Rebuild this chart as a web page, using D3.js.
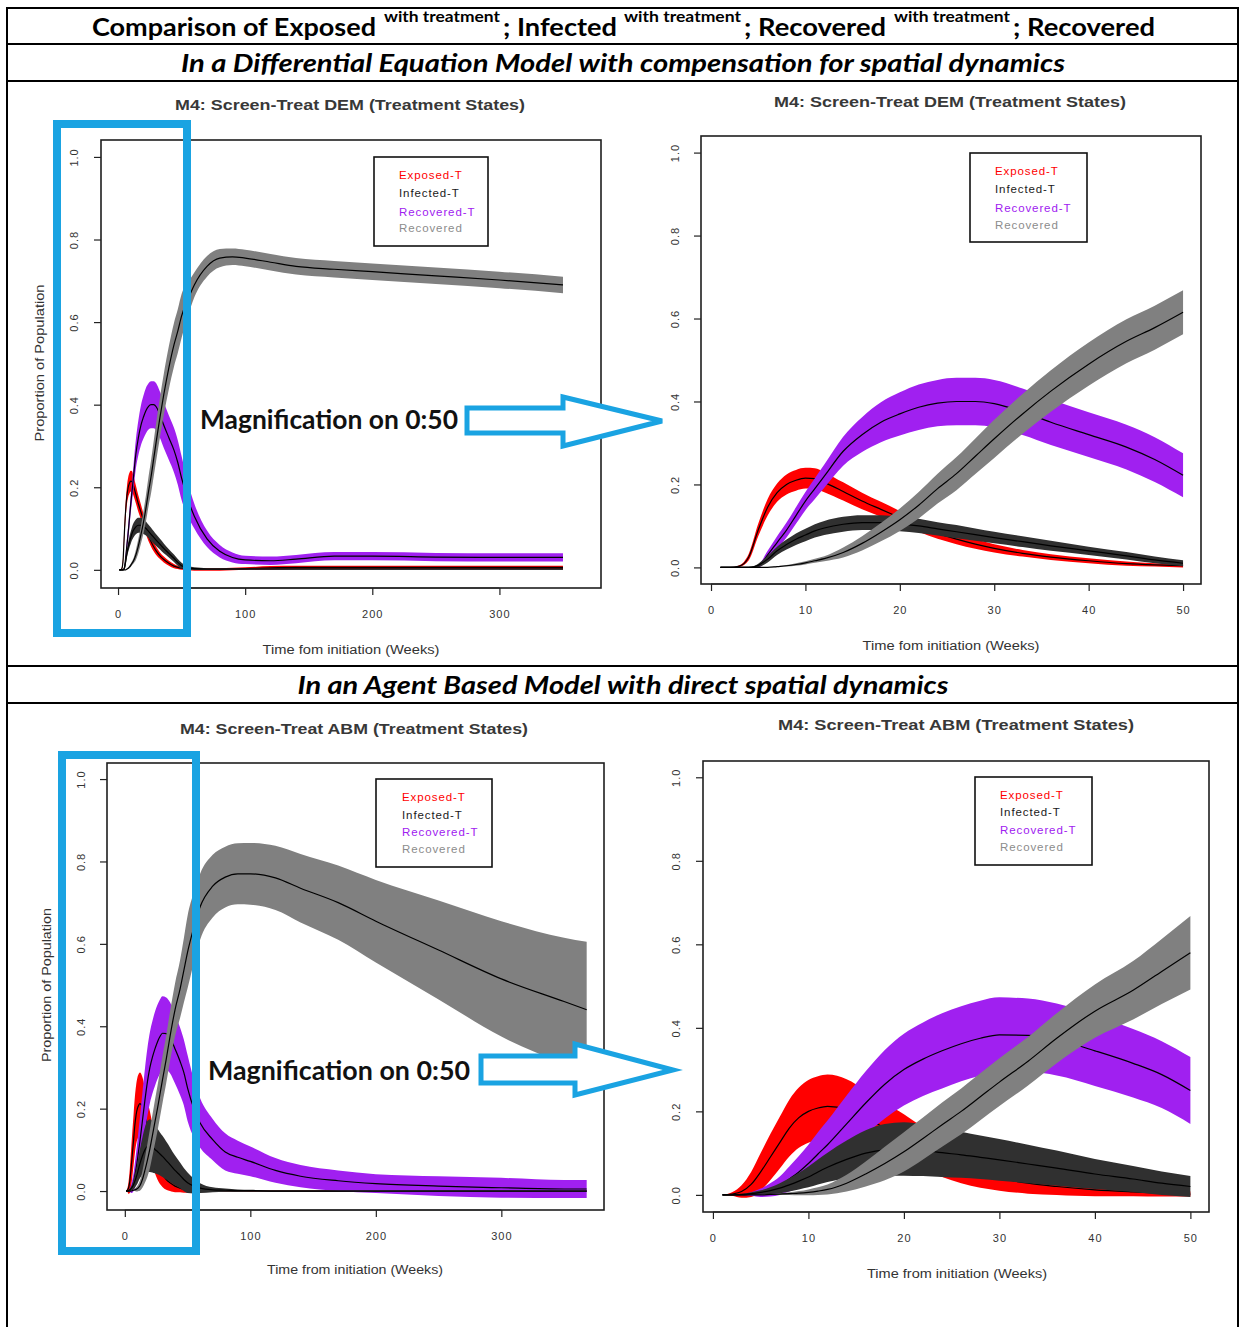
<!DOCTYPE html>
<html><head><meta charset="utf-8">
<script src="https://cdn.jsdelivr.net/npm/d3@7"></script>
<style>body{margin:0;background:#fff} svg{display:block}</style>
</head><body>
<svg id="c" width="1240" height="1327"></svg>
<script>
// ---------------- DATA ----------------
// Differential Equation Model (DEM): weeks and per-series mean / band half-width
const demWeeks = [1,2,3,4,5,6,7,8,9,10,11,12,14,16,18,20,22,24,26,28,30,33,36,40,44,47,50,55,60,70,80,90,100,120,140,170,200,250,300,350];
const demExposedMean   = [0,0,0.003,0.025,0.09, 0.145,0.18,0.2,0.21,0.215, 0.214,0.205,0.183,0.16,0.14, 0.12,0.1,0.082,0.068,0.056, 0.046,0.034,0.025,0.016,0.009, 0.006,0.004,0.002,0.001,0.001, 0.001,0.002,0.003,0.005,0.006, 0.006,0.006,0.006,0.006,0.006];
const demExposedSpread = [0,0,0.002,0.008,0.015, 0.02,0.022,0.024,0.025,0.025, 0.025,0.024,0.022,0.02,0.018, 0.016,0.014,0.013,0.012,0.011, 0.01,0.008,0.007,0.006,0.005, 0.004,0.004,0.003,0.003,0.003, 0.003,0.003,0.003,0.004,0.004, 0.004,0.004,0.004,0.004,0.004];
const demInfectedMean   = [0,0,0,0,0.005, 0.02,0.04,0.055,0.068,0.078, 0.088,0.095,0.104,0.108,0.108, 0.105,0.1,0.093,0.086,0.079, 0.072,0.062,0.052,0.04,0.028, 0.018,0.01,0.005,0.003,0.002, 0.002,0.002,0.002,0.002,0.002, 0.002,0.002,0.002,0.002,0.002];
const demInfectedSpread = [0,0,0,0,0.004, 0.008,0.01,0.012,0.014,0.015, 0.016,0.017,0.018,0.018,0.018, 0.018,0.017,0.016,0.016,0.015, 0.014,0.013,0.012,0.01,0.009, 0.008,0.007,0.004,0.003,0.002, 0.002,0.002,0.002,0.002,0.002, 0.002,0.002,0.002,0.002,0.002];
const demRecTMean   = [0,0,0,0,0.003, 0.03,0.06,0.09,0.125,0.16, 0.19,0.22,0.28,0.32,0.35, 0.37,0.386,0.396,0.4,0.4, 0.395,0.375,0.35,0.32,0.29, 0.26,0.222,0.17,0.13,0.075, 0.045,0.03,0.024,0.022,0.026, 0.033,0.033,0.031,0.03,0.03];
const demRecTSpread = [0,0,0,0,0.003, 0.01,0.015,0.018,0.02,0.022, 0.025,0.028,0.035,0.042,0.048, 0.052,0.055,0.056,0.057,0.057, 0.057,0.056,0.055,0.054,0.054, 0.054,0.053,0.04,0.03,0.02, 0.015,0.012,0.01,0.01,0.01, 0.01,0.01,0.01,0.01,0.01];
const demRecMean   = [0,0,0,0,0, 0,0.002,0.004,0.007,0.011, 0.016,0.021,0.036,0.058,0.085, 0.115,0.15,0.19,0.226,0.268, 0.31,0.37,0.425,0.49,0.545, 0.578,0.615,0.655,0.69,0.735, 0.755,0.758,0.755,0.745,0.735, 0.728,0.722,0.712,0.702,0.69];
const demRecSpread = [0,0,0,0,0, 0,0.001,0.002,0.003,0.004, 0.005,0.006,0.012,0.017,0.022, 0.027,0.032,0.036,0.04,0.043, 0.046,0.048,0.05,0.052,0.053, 0.053,0.053,0.04,0.03,0.025, 0.022,0.02,0.02,0.02,0.02, 0.02,0.02,0.02,0.02,0.02];

// Agent Based Model (ABM)
const abmWeeks = [1,2,3,4,5,6,7,8,9,10,11,12,14,16,18,20,22,24,26,28,30,33,36,40,44,47,50,55,60,70,80,90,100,120,140,170,200,250,300,350,368];
const abmExposedMean   = [0,0.002,0.008,0.025,0.055, 0.09,0.125,0.16,0.185,0.2, 0.208,0.212,0.205,0.185,0.16, 0.135,0.11,0.088,0.068,0.052, 0.04,0.028,0.02,0.012,0.007, 0.004,0.002,0.001,0,0, 0,0,0,0,0, 0,0,0,0,0, 0];
const abmExposedSpread = [0,0.004,0.015,0.03,0.045, 0.055,0.062,0.068,0.072,0.075, 0.076,0.076,0.072,0.065,0.06, 0.058,0.052,0.045,0.04,0.035, 0.03,0.025,0.02,0.015,0.01, 0.008,0.006,0.004,0.003,0.002, 0.002,0.002,0.002,0.002,0.002, 0.002,0.002,0.002,0.002,0.002, 0.002];
const abmInfectedMean   = [0,0,0.001,0.003,0.006, 0.01,0.016,0.024,0.033,0.043, 0.055,0.066,0.085,0.1,0.108, 0.11,0.107,0.101,0.096,0.09, 0.084,0.074,0.064,0.05,0.038, 0.028,0.02,0.012,0.007,0.003, 0.002,0.001,0.001,0,0, 0,0,0,0,0, 0];
const abmInfectedSpread = [0,0,0.001,0.003,0.005, 0.008,0.012,0.016,0.02,0.025, 0.03,0.035,0.045,0.055,0.062, 0.064,0.062,0.058,0.055,0.052, 0.05,0.046,0.042,0.036,0.031, 0.028,0.025,0.018,0.012,0.006, 0.004,0.003,0.002,0.002,0.002, 0.002,0.002,0.002,0.002,0.002, 0.002];
const abmRecTMean   = [0,0,0,0.002,0.005, 0.012,0.022,0.038,0.055,0.075, 0.098,0.12,0.17,0.22,0.265, 0.3,0.325,0.345,0.362,0.375, 0.383,0.382,0.372,0.345,0.315, 0.288,0.25,0.2,0.165,0.125, 0.095,0.082,0.072,0.05,0.036, 0.025,0.018,0.012,0.008,0.005, 0.005];
const abmRecTSpread = [0,0,0.001,0.004,0.01, 0.016,0.022,0.03,0.038,0.045, 0.052,0.058,0.068,0.076,0.082, 0.086,0.088,0.09,0.09,0.09, 0.09,0.088,0.086,0.084,0.082, 0.08,0.08,0.07,0.06,0.05, 0.045,0.04,0.036,0.03,0.027, 0.025,0.023,0.024,0.024,0.022, 0.022];
const abmRecMean   = [0,0,0,0,0, 0.001,0.002,0.003,0.004,0.006, 0.009,0.013,0.028,0.05,0.075, 0.103,0.135,0.168,0.2,0.235, 0.27,0.32,0.375,0.44,0.49, 0.535,0.58,0.64,0.69,0.74, 0.762,0.77,0.77,0.76,0.735, 0.7,0.655,0.585,0.515,0.46, 0.44];
const abmRecSpread = [0,0,0,0,0, 0.001,0.002,0.003,0.005,0.007, 0.009,0.012,0.02,0.03,0.04, 0.047,0.05,0.053,0.055,0.056, 0.057,0.058,0.06,0.064,0.07, 0.078,0.088,0.085,0.08,0.076, 0.074,0.074,0.075,0.078,0.083, 0.09,0.1,0.12,0.14,0.155, 0.165];

const seriesNames  = ["Exposed-T","Infected-T","Recovered-T","Recovered"];
const bandColors   = ["#ff0000","#303030","#a020f0","#808080"];
const legendColors = ["#ff0000","#1a1a1a","#a020f0","#8c8c8c"];
const drawOrder    = [0,2,1,3];
const yTickValues  = [0,0.2,0.4,0.6,0.8,1.0];
const xTicksLong   = [0,100,200,300];
const xTicksShort  = [0,10,20,30,40,50];

const demSeries = {weeks: demWeeks, means:[demExposedMean,demInfectedMean,demRecTMean,demRecMean], spreads:[demExposedSpread,demInfectedSpread,demRecTSpread,demRecSpread]};
const abmSeries = {weeks: abmWeeks, means:[abmExposedMean,abmInfectedMean,abmRecTMean,abmRecMean], spreads:[abmExposedSpread,abmInfectedSpread,abmRecTSpread,abmRecSpread]};

// ---------------- LAYOUT ----------------
const panels = [
  {data: demSeries, tMax: 350, box:{x0:101,x1:601,y0:140,y1:588}, xDom:[-13.4,379.9], yDom:[-0.044,1.041],
   xTicks: xTicksLong, title:"M4:  Screen-Treat DEM (Treatment States)", tx:350, ty:105, tw:350,
   xlab:"Time fom initiation (Weeks)", lx:351, ly:650, lw:177, ylab:"Proportion of Population", yx:40, yy:363, yw:157,
   ylabX:74, xlabY:614, leg:{x0:374,y0:157,x1:488,y1:246,tx:399,rows:[175,193,212,228]}},
  {data: demSeries, tMax: 50, box:{x0:701,x1:1201,y0:136,y1:584}, xDom:[-1.06,51.9], yDom:[-0.04,1.04],
   xTicks: xTicksShort, title:"M4:  Screen-Treat DEM (Treatment States)", tx:950, ty:102, tw:352,
   xlab:"Time fom initiation (Weeks)", lx:951, ly:646, lw:177, ylab:null,
   ylabX:675, xlabY:610, leg:{x0:970,y0:153,x1:1087,y1:242,tx:995,rows:[171,189,208,225]}},
  {data: abmSeries, tMax: 368, box:{x0:107,x1:604,y0:763,y1:1210}, xDom:[-14.2,381.8], yDom:[-0.046,1.039],
   xTicks: xTicksLong, title:"M4:  Screen-Treat ABM (Treatment States)", tx:354, ty:729, tw:348,
   xlab:"Time from initiation (Weeks)", lx:355, ly:1270, lw:176, ylab:"Proportion of Population", yx:47, yy:985, yw:154,
   ylabX:81, xlabY:1236, leg:{x0:376,y0:779,x1:492,y1:867,tx:402,rows:[797,815,832,849]}},
  {data: abmSeries, tMax: 50, box:{x0:703,x1:1209,y0:761,y1:1212}, xDom:[-1.04,51.95], yDom:[-0.041,1.039],
   xTicks: xTicksShort, title:"M4:  Screen-Treat ABM (Treatment States)", tx:956, ty:725, tw:356,
   xlab:"Time from initiation (Weeks)", lx:957, ly:1274, lw:180, ylab:null,
   ylabX:676, xlabY:1238, leg:{x0:975,y0:777,x1:1092,y1:865,tx:1000,rows:[795,812,830,847]}}
];

const svg = d3.select('#c');
const plotFont = "'Liberation Sans', Arial, sans-serif";
const headFont = "Lato, 'Open Sans', sans-serif";

// ---------------- TABLE FRAME & HEADINGS ----------------
const frame = svg.append('g').attr('stroke','#000').attr('stroke-width',2);
[8,44,81,666,703].forEach(yy => frame.append('line').attr('x1',6).attr('x2',1239).attr('y1',yy).attr('y2',yy));
[7,1238].forEach(xx => frame.append('line').attr('x1',xx).attr('x2',xx).attr('y1',7).attr('y2',1327));

const titleParts = [
  {t:"Comparison of Exposed", x:92, w:284, sup:false},
  {t:"with treatment", x:384, w:116, sup:true},
  {t:"; Infected", x:503, w:114, sup:false},
  {t:"with treatment", x:624, w:117, sup:true},
  {t:"; Recovered", x:744, w:142, sup:false},
  {t:"with treatment", x:894, w:116, sup:true},
  {t:"; Recovered", x:1013, w:142, sup:false}
];
titleParts.forEach(p => {
  svg.append('text').attr('x',p.x).attr('y', p.sup ? 22 : 36)
    .attr('font-family',headFont).attr('font-weight',700)
    .attr('font-size', p.sup ? 15 : 25).attr('fill','#000')
    .attr('textLength',p.w).attr('lengthAdjust','spacingAndGlyphs').text(p.t);
});
svg.append('text').attr('x',623).attr('y',72).attr('text-anchor','middle')
  .attr('font-family',headFont).attr('font-weight',700).attr('font-style','italic').attr('font-size',25)
  .attr('textLength',884).attr('lengthAdjust','spacingAndGlyphs')
  .text("In a Differential Equation Model with compensation for spatial dynamics");
svg.append('text').attr('x',623).attr('y',694).attr('text-anchor','middle')
  .attr('font-family',headFont).attr('font-weight',700).attr('font-style','italic').attr('font-size',25)
  .attr('textLength',651).attr('lengthAdjust','spacingAndGlyphs')
  .text("In an Agent Based Model with direct spatial dynamics");

// ---------------- PANELS ----------------
panels.forEach((cfg, pi) => {
  const b = cfg.box;
  const x = d3.scaleLinear().domain(cfg.xDom).range([b.x0, b.x1]);
  const y = d3.scaleLinear().domain(cfg.yDom).range([b.y1, b.y0]);
  const g = svg.append('g');
  const clipId = 'clip' + pi;
  g.append('clipPath').attr('id',clipId).append('rect')
    .attr('x',b.x0).attr('y',b.y0).attr('width',b.x1-b.x0).attr('height',b.y1-b.y0);
  const plot = g.append('g').attr('clip-path',`url(#${clipId})`);

  const W = cfg.data.weeks;
  drawOrder.forEach(si => {
    const pts = W.map((t,i) => ({t, m: cfg.data.means[si][i], s: cfg.data.spreads[si][i]}))
                 .filter(d => d.t <= cfg.tMax);
    const area = d3.area().x(d => x(d.t)).y0(d => y(d.m - d.s)).y1(d => y(d.m + d.s)).curve(d3.curveMonotoneX);
    const line = d3.line().x(d => x(d.t)).y(d => y(d.m)).curve(d3.curveMonotoneX);
    plot.append('path').datum(pts).attr('d',area).attr('fill',bandColors[si]).attr('stroke','none');
    plot.append('path').datum(pts).attr('d',line).attr('fill','none').attr('stroke','#000').attr('stroke-width',1.2);
  });

  // box
  g.append('rect').attr('x',b.x0).attr('y',b.y0).attr('width',b.x1-b.x0).attr('height',b.y1-b.y0)
    .attr('fill','none').attr('stroke','#1e1e1e').attr('stroke-width',1.6);

  // y axis
  const gy = g.append('g').attr('transform',`translate(${b.x0},0)`)
    .call(d3.axisLeft(y).tickValues(yTickValues).tickSize(7).tickSizeOuter(0).tickFormat(d3.format('.1f')));
  gy.select('.domain').remove();
  gy.selectAll('line').attr('stroke','#222').attr('stroke-width',1.2);
  gy.selectAll('text').attr('x',0).attr('dy','0.36em').attr('text-anchor','middle')
    .attr('transform',`translate(${cfg.ylabX - b.x0},0) rotate(-90)`)
    .attr('font-family',plotFont).attr('font-size',11).attr('fill','#333').attr('letter-spacing',1);

  // x axis
  const gx = g.append('g').attr('transform',`translate(0,${b.y1})`)
    .call(d3.axisBottom(x).tickValues(cfg.xTicks).tickSize(7).tickSizeOuter(0).tickFormat(d3.format('d')));
  gx.select('.domain').remove();
  gx.append('line').attr('x1',x(cfg.xTicks[0])).attr('x2',x(cfg.xTicks[cfg.xTicks.length-1]))
    .attr('y1',0).attr('y2',0).attr('stroke','#222').attr('stroke-width',1.2);
  gx.selectAll('line').attr('stroke','#222').attr('stroke-width',1.2);
  gx.selectAll('text').attr('y',cfg.xlabY - b.y1).attr('dy','0.36em')
    .attr('font-family',plotFont).attr('font-size',11).attr('fill','#333').attr('letter-spacing',1);

  // titles
  g.append('text').attr('x',cfg.tx).attr('y',cfg.ty).attr('dy','0.35em').attr('text-anchor','middle')
    .attr('font-family',plotFont).attr('font-weight',700).attr('font-size',15).attr('fill','#383838')
    .attr('textLength',cfg.tw).attr('lengthAdjust','spacingAndGlyphs').text(cfg.title);
  g.append('text').attr('x',cfg.lx).attr('y',cfg.ly).attr('dy','0.35em').attr('text-anchor','middle')
    .attr('font-family',plotFont).attr('font-size',12).attr('fill','#333')
    .attr('textLength',cfg.lw).attr('lengthAdjust','spacingAndGlyphs').text(cfg.xlab);
  if (cfg.ylab) {
    g.append('text').attr('transform',`translate(${cfg.yx},${cfg.yy}) rotate(-90)`).attr('dy','0.35em')
      .attr('text-anchor','middle').attr('font-family',plotFont).attr('font-size',12).attr('fill','#333')
      .attr('textLength',cfg.yw).attr('lengthAdjust','spacingAndGlyphs').text(cfg.ylab);
  }

  // legend
  const L = cfg.leg;
  g.append('rect').attr('x',L.x0).attr('y',L.y0).attr('width',L.x1-L.x0).attr('height',L.y1-L.y0)
    .attr('fill','#fff').attr('stroke','#111').attr('stroke-width',1.6);
  seriesNames.forEach((nm, i) => {
    g.append('text').attr('x',L.tx).attr('y',L.rows[i]).attr('dy','0.35em')
      .attr('font-family',plotFont).attr('font-size',11.5).attr('letter-spacing',0.9)
      .attr('fill',legendColors[i]).text(nm);
  });
});

// ---------------- MAGNIFICATION ANNOTATIONS ----------------
const blue = '#1aa3e2';
const annots = [
  {rect:[57,124,187,633], arrow:[[467,408],[563,408],[563,397],[662,421],[563,446],[563,433],[467,433]], tx:200, ty:429, tw:258},
  {rect:[62,755,196,1251], arrow:[[481,1056],[575,1056],[575,1044],[673,1070],[575,1095],[575,1083],[481,1083]], tx:208, ty:1080, tw:262}
];
annots.forEach(a => {
  svg.append('rect').attr('x',a.rect[0]).attr('y',a.rect[1]).attr('width',a.rect[2]-a.rect[0]).attr('height',a.rect[3]-a.rect[1])
    .attr('fill','none').attr('stroke',blue).attr('stroke-width',8);
  svg.append('path').attr('d', d3.line()(a.arrow) + 'Z').attr('fill','#fff').attr('stroke',blue)
    .attr('stroke-width',5).attr('stroke-linejoin','miter');
  svg.append('text').attr('x',a.tx).attr('y',a.ty).attr('font-family',headFont).attr('font-weight',700)
    .attr('font-size',26).attr('fill','#111').attr('textLength',a.tw).attr('lengthAdjust','spacingAndGlyphs')
    .text('Magnification on 0:50');
});
</script>
</body></html>
